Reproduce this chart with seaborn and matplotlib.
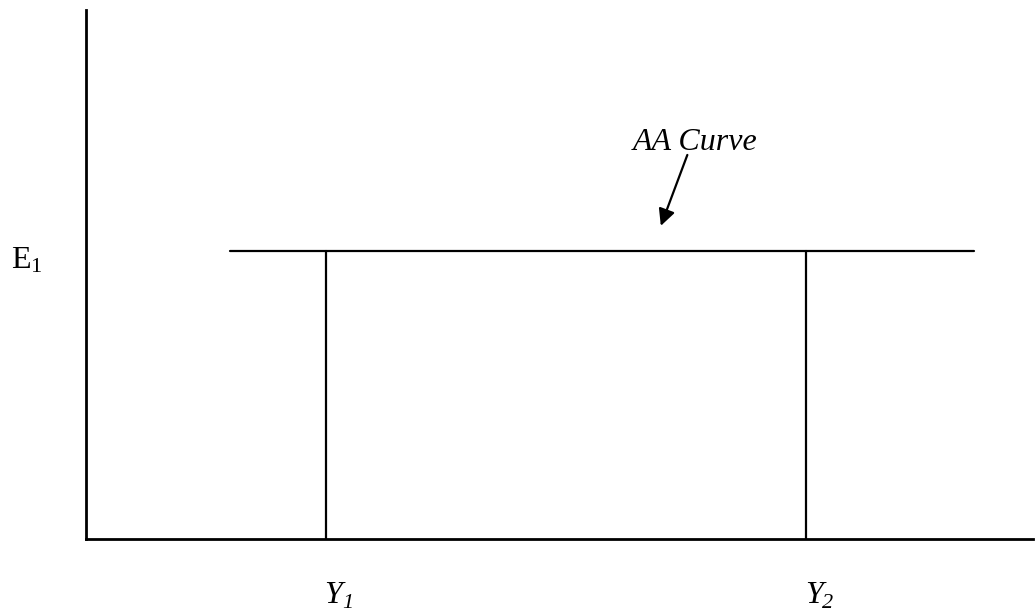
import matplotlib
matplotlib.use("Agg")
import matplotlib.pyplot as plt
import seaborn as sns
import pandas as pd

sns.set_style("white")
plt.rcParams['font.family'] = ['Liberation Serif', 'DejaVu Serif']
plt.rcParams['text.color'] = 'black'
plt.rcParams['mathtext.fontset'] = 'custom'
plt.rcParams['mathtext.rm'] = 'Liberation Serif'
plt.rcParams['mathtext.it'] = 'Liberation Serif:italic'

# AA curve: flat at the exchange rate E1
aa_x = [1.52, 9.38]
aa_y = [5.44, 5.44]

# output levels
output_names = ['Y', 'Y']
output_subs = ['1', '2']
output_x = [2.53, 7.60]

e_label = 'E$_1$'
e_level = 5.44

fig = plt.figure(figsize=(10.36, 6.11), dpi=100)
ax = fig.add_axes([86 / 1036, 72 / 611, 947 / 1036, 529 / 611])

aa_df = pd.DataFrame({'x': aa_x, 'y': aa_y})
sns.lineplot(data=aa_df, x='x', y='y', color='black', linewidth=1.6, ax=ax)

for xv in output_x:
    ax.plot([xv, xv], [0, e_level], color='black', linewidth=1.6)

ax.set_xlim(0, 10)
ax.set_ylim(0, 10)
ax.set_xticks([])
ax.set_yticks([])
ax.set_xlabel('')
ax.set_ylabel('')

for side in ['top', 'right']:
    ax.spines[side].set_visible(False)
for side in ['left', 'bottom']:
    ax.spines[side].set_color('black')
    ax.spines[side].set_linewidth(2)

# labels under the output levels (italic letter with italic subscript)
for name, sub, xv in zip(output_names, output_subs, output_x):
    ax.text(xv - 0.01, -1.21, name, fontsize=23, style='italic',
            ha='left', va='baseline', clip_on=False)
    ax.annotate(sub, xy=(xv - 0.01, -1.21), xytext=(12.5, -3.5),
                textcoords='offset points', fontsize=16, style='italic',
                ha='left', va='baseline', annotation_clip=False)

ax.text(-0.79, 5.12, e_label, fontsize=23, ha='left', va='baseline', clip_on=False)

ax.text(6.43, 7.35, 'AA Curve', fontsize=23, style='italic', ha='center', va='baseline')
ax.annotate('', xy=(6.07, 5.92), xytext=(6.35, 7.26),
            arrowprops=dict(arrowstyle='-|>', color='black', lw=1.6,
                            mutation_scale=25, shrinkA=0, shrinkB=0))

plt.savefig('out.png', dpi=100)
